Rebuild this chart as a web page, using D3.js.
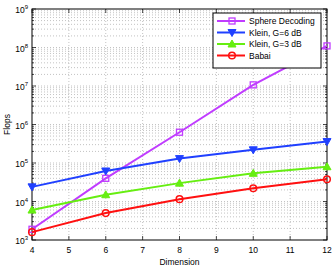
<!DOCTYPE html>
<html>
<head>
<meta charset="utf-8">
<script src="https://cdn.jsdelivr.net/npm/d3@7"></script>
<style>
  body { margin: 0; background: #fff; }
  text { font-family: "Liberation Sans", Arial, sans-serif; }
</style>
</head>
<body>
<div id="chart"></div>
<script>
// data
var dims = [4, 6, 8, 10, 12];
var sphereDecoding = [1900, 40000, 630000, 1.07e7, 1.1e8];
var klein6 = [24000, 62000, 130000, 220000, 360000];
var klein3 = [6000, 15000, 30000, 54000, 80000];
var babai = [1600, 5000, 11500, 22000, 38000];
var xTicks = [4, 5, 6, 7, 8, 9, 10, 11, 12];
var yExponents = [3, 4, 5, 6, 7, 8, 9];

var series = [
  {name: "Sphere Decoding", values: sphereDecoding, color: "#c03cff", marker: "square"},
  {name: "Klein, G=6 dB", values: klein6, color: "#2040ff", marker: "down"},
  {name: "Klein, G=3 dB", values: klein3, color: "#66ee11", marker: "up"},
  {name: "Babai", values: babai, color: "#ff1010", marker: "circle"}
];

var svgWidth = 333;
var svgHeight = 269;
var margin = {top: 9, right: 6, bottom: 29, left: 32};
var width = svgWidth - margin.left - margin.right;
var height = svgHeight - margin.top - margin.bottom;

var svg = d3.select("#chart").append("svg")
  .attr("width", svgWidth)
  .attr("height", svgHeight);

var chartGroup = svg.append("g")
  .attr("transform", `translate(${margin.left}, ${margin.top})`);

var x = d3.scaleLinear().domain([4, 12]).range([0, width]);
var y = d3.scaleLog().domain([1e3, 1e9]).range([height, 0]);

// minor values for the log axis
var minorVals = [];
yExponents.slice(0, -1).forEach(function(e) {
  for (var k = 2; k <= 9; k++) minorVals.push(k * Math.pow(10, e));
});
var majorVals = yExponents.map(e => Math.pow(10, e));

// grid
var grid = chartGroup.append("g")
  .attr("stroke", "#9a9a9a")
  .attr("stroke-width", 0.6)
  .attr("stroke-dasharray", "1,2");

grid.selectAll(".hg")
  .data(minorVals.concat(majorVals.slice(1, -1)))
  .enter().append("line")
  .attr("x1", 0).attr("x2", width)
  .attr("y1", d => y(d)).attr("y2", d => y(d));

grid.selectAll(".vg")
  .data(xTicks.slice(1, -1))
  .enter().append("line")
  .attr("y1", 0).attr("y2", height)
  .attr("x1", d => x(d)).attr("x2", d => x(d));

// ticks (inside, left and right)
var ticks = chartGroup.append("g").attr("stroke", "#000").attr("stroke-width", 0.7);
majorVals.forEach(function(v) {
  ticks.append("line").attr("x1", 0).attr("x2", 4).attr("y1", y(v)).attr("y2", y(v));
  ticks.append("line").attr("x1", width).attr("x2", width - 4).attr("y1", y(v)).attr("y2", y(v));
});
minorVals.forEach(function(v) {
  ticks.append("line").attr("x1", 0).attr("x2", 2).attr("y1", y(v)).attr("y2", y(v));
  ticks.append("line").attr("x1", width).attr("x2", width - 2).attr("y1", y(v)).attr("y2", y(v));
});
xTicks.forEach(function(v) {
  ticks.append("line").attr("x1", x(v)).attr("x2", x(v)).attr("y1", height).attr("y2", height - 4);
  ticks.append("line").attr("x1", x(v)).attr("x2", x(v)).attr("y1", 0).attr("y2", 4);
});

// box
chartGroup.append("rect")
  .attr("width", width).attr("height", height)
  .attr("fill", "none").attr("stroke", "#000").attr("stroke-width", 1);

// tick labels
chartGroup.selectAll(".xlab")
  .data(xTicks)
  .enter().append("text")
  .attr("x", d => x(d))
  .attr("y", height + 13)
  .attr("text-anchor", "middle")
  .attr("font-size", "8.5px")
  .text(d => d);

var ylab = chartGroup.selectAll(".ylab")
  .data(yExponents)
  .enter().append("text")
  .attr("x", -4)
  .attr("y", d => y(Math.pow(10, d)) + 4)
  .attr("text-anchor", "end")
  .attr("font-size", "8.5px");
ylab.append("tspan").text("10");
ylab.append("tspan")
  .attr("dy", -4)
  .attr("font-size", "6px")
  .text(d => d);

// axis titles
chartGroup.append("text")
  .attr("x", width / 2)
  .attr("y", height + 25)
  .attr("text-anchor", "middle")
  .attr("font-size", "8.5px")
  .text("Dimension");

chartGroup.append("text")
  .attr("transform", `translate(${-22}, ${height / 2}) rotate(-90)`)
  .attr("text-anchor", "middle")
  .attr("font-size", "8.5px")
  .text("Flops");

function drawMarker(g, type, color, cx, cy) {
  if (type === "square") {
    g.append("rect").attr("x", cx - 3).attr("y", cy - 3).attr("width", 6).attr("height", 6)
      .attr("fill", "none").attr("stroke", color).attr("stroke-width", 1.3);
  } else if (type === "circle") {
    g.append("circle").attr("cx", cx).attr("cy", cy).attr("r", 3.3)
      .attr("fill", "none").attr("stroke", color).attr("stroke-width", 1.5);
  } else if (type === "down") {
    g.append("path").attr("d", `M${cx - 4},${cy - 3}L${cx + 4},${cy - 3}L${cx},${cy + 4}Z`)
      .attr("fill", color).attr("stroke", color).attr("stroke-width", 1);
  } else {
    g.append("path").attr("d", `M${cx - 4},${cy + 3}L${cx + 4},${cy + 3}L${cx},${cy - 4}Z`)
      .attr("fill", color).attr("stroke", color).attr("stroke-width", 1);
  }
}

var line = d3.line()
  .x(d => x(d[0]))
  .y(d => y(d[1]));

series.forEach(function(s) {
  var pts = dims.map((d, i) => [d, s.values[i]]);
  var g = chartGroup.append("g");
  g.append("path")
    .datum(pts)
    .attr("d", line)
    .attr("fill", "none")
    .attr("stroke", s.color)
    .attr("stroke-width", 2);
  pts.forEach(p => drawMarker(g, s.marker, s.color, x(p[0]), y(p[1])));
});

// legend
var legend = svg.append("g").attr("transform", "translate(213, 13)");
legend.append("rect")
  .attr("width", 108).attr("height", 55)
  .attr("fill", "#fff").attr("stroke", "#000").attr("stroke-width", 1);
series.forEach(function(s, i) {
  var ly = 8 + i * 11.5;
  legend.append("line")
    .attr("x1", 4).attr("x2", 32).attr("y1", ly).attr("y2", ly)
    .attr("stroke", s.color).attr("stroke-width", 2);
  drawMarker(legend, s.marker, s.color, 19, ly);
  legend.append("text")
    .attr("x", 36).attr("y", ly + 3)
    .attr("font-size", "8.5px")
    .text(s.name);
});
</script>
</body>
</html>
